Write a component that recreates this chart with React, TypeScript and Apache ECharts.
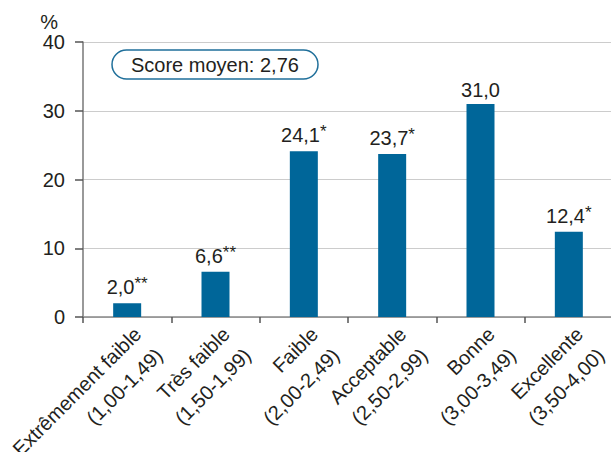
import React, { useEffect, useRef } from "react";
import * as echarts from "echarts";

const categories = [
  "Extrêmement faible\n(1,00-1,49)",
  "Très faible\n(1,50-1,99)",
  "Faible\n(2,00-2,49)",
  "Acceptable\n(2,50-2,99)",
  "Bonne\n(3,00-3,49)",
  "Excellente\n(3,50-4,00)",
];
const values = [2.0, 6.6, 24.1, 23.7, 31.0, 12.4];
const stars = ["**", "**", "*", "*", "", "*"];
const yTicks = [0, 10, 20, 30, 40];
const scoreText = "Score moyen: 2,76";

const FONT = "'Liberation Sans', Arial, Helvetica, sans-serif";
const TEXT = "#231f20";
const BAR = "#006699";

export default function App() {
  const ref = useRef<HTMLDivElement>(null);
  useEffect(() => {
    if (!ref.current) return;
    const chart = echarts.init(ref.current, undefined, { renderer: "svg" });
    chart.setOption({
      animation: false,
      backgroundColor: "#ffffff",
      textStyle: { fontFamily: FONT },
      title: {
        text: scoreText,
        left: 112,
        top: 50,
        padding: [5, 19, 4, 19],
        borderColor: "#1f6f9a",
        borderWidth: 1.5,
        borderRadius: 16,
        textStyle: { fontSize: 20, fontWeight: "normal", color: TEXT, fontFamily: FONT },
      },
      grid: { left: 83, right: -2, top: 42, bottom: 135, containLabel: false, outerBoundsMode: "none" },
      xAxis: {
        type: "category",
        data: categories,
        boundaryGap: true,
        axisLine: { show: true, lineStyle: { color: "#888888", width: 1.5 } },
        axisTick: { show: true, length: 6, lineStyle: { color: "#555555", width: 1.5 } },
        axisLabel: {
          interval: 0,
          rotate: 45,
          align: "right",
          verticalAlign: "top",
          margin: 3,
          fontSize: 20,
          lineHeight: 30,
          color: TEXT,
          fontFamily: FONT,
        },
      },
      yAxis: {
        type: "value",
        min: yTicks[0],
        max: yTicks[yTicks.length - 1],
        interval: 10,
        name: "%",
        nameLocation: "end",
        nameGap: 4,
        nameTextStyle: { fontSize: 20, color: TEXT, align: "right", padding: [0, 25, 0, 0], fontFamily: FONT },
        axisLine: { show: true, lineStyle: { color: "#777777", width: 1.5 } },
        axisTick: { show: true, length: 8, lineStyle: { color: "#555555", width: 1.5 } },
        axisLabel: { fontSize: 20, color: TEXT, margin: 18, fontFamily: FONT },
        splitLine: { show: true, lineStyle: { color: "#cccccc", width: 1 } },
      },
      series: [
        {
          type: "bar",
          barWidth: 28,
          data: values.map((v, i) => ({ value: v, star: stars[i] })),
          itemStyle: { color: BAR },
          label: {
            show: true,
            position: "top",
            distance: 4,
            formatter: (p: any) => {
              const v = values[p.dataIndex].toFixed(1).replace(".", ",");
              const s = stars[p.dataIndex];
              return s ? `{a|${v}}{b|${s}}` : `{a|${v}}`;
            },
            rich: {
              a: { fontSize: 20, color: TEXT, fontFamily: FONT },
              b: { fontSize: 17, color: TEXT, fontFamily: FONT, padding: [0, 0, 7, 0] },
            },
          },
        },
      ],
    });
    return () => chart.dispose();
  }, []);
  return <div ref={ref} style={{ width: 611, height: 452, position: "absolute", left: 0, top: 0 }} />;
}
